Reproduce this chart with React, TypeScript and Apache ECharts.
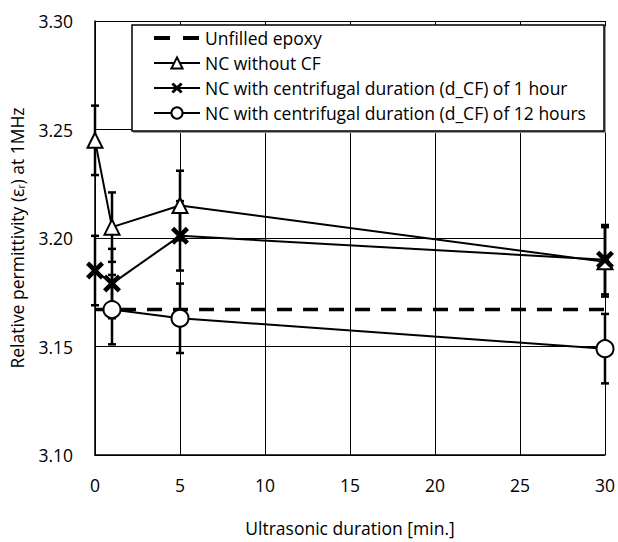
import React, { useEffect, useRef } from "react";
import * as echarts from "echarts";

const FONT = "Open Sans";
const FS = 17.5;

// Ultrasonic duration [min.]
const durations = [0, 1, 5, 30];
const durations12h = [1, 5, 30];
const unfilledX = [0, 30];

const unfilledEpoxy = [3.167, 3.167];
const ncWithoutCF = [3.245, 3.205, 3.215, 3.189];
const ncWithoutCFErr = [0.016, 0.016, 0.016, 0.016];
const ncCF1h = [3.185, 3.179, 3.201, 3.190];
const ncCF1hErr = [0.016, 0.016, 0.016, 0.016];
const ncCF12h = [3.167, 3.163, 3.149];
const ncCF12hErr = [0.016, 0.016, 0.016];

const seriesNames = [
  "Unfilled epoxy",
  "NC without CF",
  "NC with centrifugal duration (d_CF) of 1 hour",
  "NC with centrifugal duration (d_CF) of 12 hours",
];

const X_PATH =
  "path://M1.8,0L5,3.2L8.2,0L10,1.8L6.8,5L10,8.2L8.2,10L5,6.8L1.8,10L0,8.2L3.2,5L0,1.8Z";
const DASH_ICON =
  "path://M0,0L0,0ZM46,14L46,14ZM0,5L16,5L16,9L0,9ZM29,5L45,5L45,9L29,9Z";

function pairs(xs: number[], ys: number[]) {
  return xs.map((x, i) => [x, ys[i]]);
}
function errData(xs: number[], ys: number[], es: number[]) {
  return xs.map((x, i) => [x, ys[i] - es[i], ys[i] + es[i]]);
}

const errorRender = (params: any, api: any) => {
  const x = api.value(0);
  const lo = api.coord([x, api.value(1)]);
  const hi = api.coord([x, api.value(2)]);
  const w = 4;
  const st = { stroke: "#000", lineWidth: 2.5 };
  return {
    type: "group",
    children: [
      { type: "line", shape: { x1: hi[0], y1: hi[1], x2: lo[0], y2: lo[1] }, style: st },
      { type: "line", shape: { x1: hi[0] - w, y1: hi[1], x2: hi[0] + w, y2: hi[1] }, style: st },
      { type: "line", shape: { x1: lo[0] - w, y1: lo[1], x2: lo[0] + w, y2: lo[1] }, style: st },
    ],
  };
};

export default function App() {
  const ref = useRef<HTMLDivElement>(null);
  useEffect(() => {
    if (!ref.current) return;
    const chart = echarts.init(ref.current, undefined, { renderer: "svg" });
    const lineStyle = { color: "#000", width: 2 };
    chart.setOption({
      animation: false,
      backgroundColor: "#fff",
      textStyle: { fontFamily: FONT, color: "#000" },
      grid: { left: 93, right: 12, top: 21, bottom: 77 },
      xAxis: {
        type: "value",
        min: 0,
        max: 30,
        interval: 5,
        name: "Ultrasonic duration [min.]",
        nameLocation: "middle",
        nameGap: 64,
        nameTextStyle: { fontSize: FS, color: "#000", fontFamily: FONT },
        axisLine: { lineStyle: { color: "#000", width: 1.5 } },
        axisTick: { show: false },
        axisLabel: { fontSize: FS, color: "#000", margin: 21, fontFamily: FONT },
        splitLine: { show: true, lineStyle: { color: "#000", width: 1 } },
      },
      yAxis: {
        type: "value",
        min: 3.1,
        max: 3.3,
        interval: 0.05,
        name: "Relative permittivity (ε{sub|r}) at 1MHz",
        nameLocation: "middle",
        nameGap: 69,
        nameRotate: 90,
        nameTextStyle: {
          fontSize: FS,
          color: "#000",
          fontFamily: FONT,
          rich: { sub: { fontSize: 10, verticalAlign: "bottom", fontFamily: FONT, color: "#000" } },
        },
        axisLine: { show: true, lineStyle: { color: "#000", width: 1.5 } },
        axisTick: { show: false },
        axisLabel: {
          fontSize: FS,
          color: "#000",
          margin: 22,
          fontFamily: FONT,
          formatter: (v: number) => v.toFixed(2),
        },
        splitLine: { show: true, lineStyle: { color: "#000", width: 1 } },
      },
      graphic: [
        {
          type: "rect",
          z: 3,
          shape: { x: 133.5, y: 26.5, width: 472, height: 106 },
          style: { fill: "#999", stroke: "#999", lineWidth: 1 },
        },
        {
          type: "rect",
          z: 3,
          shape: { x: 132, y: 25, width: 472, height: 106 },
          style: { fill: "#fff", stroke: "#000", lineWidth: 1.5 },
        },
      ],
      legend: {
        z: 10,
        orient: "vertical",
        left: 153,
        top: 28,
        padding: 0,
        itemWidth: 46,
        itemHeight: 14,
        itemGap: 5,
        data: [
          { name: seriesNames[0], icon: DASH_ICON },
          seriesNames[1],
          seriesNames[2],
          seriesNames[3],
        ],
        textStyle: { fontSize: FS, lineHeight: 20, color: "#000", fontFamily: FONT },
      },
      series: [
        {
          name: seriesNames[0],
          type: "line",
          data: pairs(unfilledX, unfilledEpoxy),
          symbol: "none",
          lineStyle: { color: "#000", width: 3.5, type: [15, 11] },
          itemStyle: { color: "#000" },
          z: 3,
        },
        {
          name: seriesNames[1],
          type: "line",
          data: pairs(durations, ncWithoutCF),
          symbol: "triangle",
          symbolSize: 15,
          lineStyle,
          itemStyle: { color: "#fff", borderColor: "#000", borderWidth: 2 },
          z: 4,
        },
        {
          name: seriesNames[2],
          type: "line",
          data: pairs(durations, ncCF1h),
          symbol: X_PATH,
          symbolSize: 18,
          lineStyle,
          itemStyle: { color: "#000", borderColor: "#000", borderWidth: 0 },
          z: 4,
        },
        {
          name: seriesNames[3],
          type: "line",
          data: pairs(durations12h, ncCF12h),
          symbol: "circle",
          symbolSize: 17,
          lineStyle,
          itemStyle: { color: "#fff", borderColor: "#000", borderWidth: 2 },
          z: 4,
        },
        {
          type: "custom",
          renderItem: errorRender,
          data: errData(durations, ncWithoutCF, ncWithoutCFErr),
          z: 2,
        },
        {
          type: "custom",
          renderItem: errorRender,
          data: errData(durations, ncCF1h, ncCF1hErr),
          z: 2,
        },
        {
          type: "custom",
          renderItem: errorRender,
          data: errData(durations12h, ncCF12h, ncCF12hErr),
          z: 2,
        },
      ],
    });
    return () => chart.dispose();
  }, []);
  return (
    <div
      ref={ref}
      style={{ position: "absolute", left: 0, top: 0, width: 618, height: 542 }}
    />
  );
}
